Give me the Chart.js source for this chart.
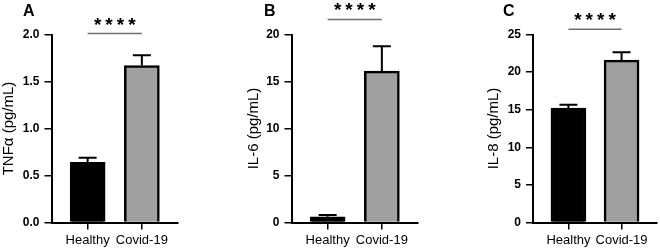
<!DOCTYPE html>
<html>
<head>
<meta charset="utf-8">
<script src="https://cdn.jsdelivr.net/npm/chart.js@4.4.0/dist/chart.umd.min.js"></script>
<style>
  body { margin: 0; background: #fff; }
  #wrap { position: relative; width: 660px; height: 250px; overflow: hidden; }
  .panel { position: absolute; top: 0; height: 250px; }
</style>
</head>
<body>
<div id="wrap">
  <div class="panel" id="panelA" style="left:0px;width:181px"><canvas id="chartA"></canvas></div>
  <div class="panel" id="panelB" style="left:245px;width:176px"><canvas id="chartB"></canvas></div>
  <div class="panel" id="panelC" style="left:485px;width:175px"><canvas id="chartC"></canvas></div>
</div>
<script>
// data
var categories = ["Healthy", "Covid-19"];
var panelLetters = ["A", "B", "C"];
var yTitles = ["TNFα (pg/mL)", "IL-6 (pg/mL)", "IL-8 (pg/mL)"];

var tnfMeans = [0.64, 1.67];
var tnfErrors = [0.05, 0.11];
var il6Means = [0.6, 16.1];
var il6Errors = [0.2, 2.65];
var il8Means = [15.2, 21.6];
var il8Errors = [0.45, 1.05];

var yMaxes = [2, 20, 25];
var yStepSizes = [0.5, 5, 5];
var yDecimals = [1, 0, 0];

var sigLabel = "****";
var sigHeights = [2.01, 21.6, 25.7];

var barColors = ["#000000", "#a0a0a0"];

var FONT = "'Liberation Sans', Arial, Helvetica, sans-serif";


// error bars (upper whisker only) + significance bracket + panel letter
var extrasPlugin = {
    id: "extras",
    afterDatasetsDraw: function (chart, args, opts) {
        var ctx = chart.ctx;
        var xs = chart.scales.x, ys = chart.scales.y;
        var ds = chart.data.datasets[0];
        ctx.save();
        ctx.strokeStyle = "#000";
        ctx.lineWidth = 2;
        for (var i = 0; i < ds.data.length; i++) {
            var x = xs.getPixelForValue(ds.data[i].x);
            var y0 = ys.getPixelForValue(ds.data[i].y);
            var y1 = ys.getPixelForValue(ds.data[i].y + opts.errors[i]);
            ctx.beginPath();
            ctx.moveTo(x, y0);
            ctx.lineTo(x, y1);
            ctx.moveTo(x - 9, y1);
            ctx.lineTo(x + 9, y1);
            ctx.stroke();
        }
        ctx.restore();
    },
    afterDraw: function (chart, args, opts) {
        var ctx = chart.ctx;
        var xs = chart.scales.x, ys = chart.scales.y;
        var xa = xs.getPixelForValue(0), xb = xs.getPixelForValue(1);
        var ly = ys.getPixelForValue(opts.sig);
        ctx.save();
        ctx.strokeStyle = "#6e6e6e";
        ctx.lineWidth = 1.5;
        ctx.beginPath();
        ctx.moveTo(xa, ly);
        ctx.lineTo(xb, ly);
        ctx.stroke();

        ctx.fillStyle = "#000";
        ctx.font = "bold 19px " + FONT;
        ctx.letterSpacing = "4px";
        ctx.textAlign = "center";
        ctx.textBaseline = "alphabetic";
        ctx.fillText(sigLabel, (xa + xb) / 2 + 2, ly - 3);

        ctx.letterSpacing = "0px";
        ctx.font = "bold 16px " + FONT;
        ctx.textAlign = "left";
        ctx.fillText(opts.letter, opts.letterX, 16);
        ctx.restore();
    }
};


function makePanel(canvasId, idx, means, errors, yAxisWidth, letterX) {
    var canvas = document.getElementById(canvasId);
    var box = canvas.parentNode;
    canvas.width = box.clientWidth;
    canvas.height = 250;

    var points = [];
    for (var i = 0; i < categories.length; i++) {
        points.push({x: i, y: means[i]});
    }

    return new Chart(canvas, {
        type: "bar",
        data: {
            datasets: [{
                data: points,
                backgroundColor: barColors,
                borderColor: "#000",
                borderWidth: 2.5,
                borderSkipped: "bottom",
                barThickness: 35
            }]
        },
        options: {
            responsive: false,
            animation: false,
            devicePixelRatio: 1,
            layout: {padding: {top: 34.5, right: 3, bottom: 0, left: 0}},
            scales: {
                x: {
                    type: "linear",
                    offset: false,
                    min: -2 / 3,
                    max: 5 / 3,
                    afterBuildTicks: function (scale) {
                        scale.ticks = categories.map(function (c, k) { return {value: k}; });
                    },
                    afterFit: function (scale) { scale.height = 27.5; },
                    border: {display: true, color: "#000", width: 2},
                    grid: {display: true, offset: false, drawOnChartArea: false, drawTicks: true,
                           tickLength: 7, color: "#000", lineWidth: 1.5},
                    ticks: {
                        autoSkip: false,
                        maxRotation: 0,
                        padding: 3,
                        color: "#000",
                        font: {family: FONT, size: 13},
                        callback: function (v) { return categories[v]; }
                    }
                },
                y: {
                    min: 0,
                    max: yMaxes[idx],
                    afterFit: function (scale) { scale.width = yAxisWidth; },
                    border: {display: true, color: "#000", width: 2},
                    grid: {display: true, drawOnChartArea: false, drawTicks: true,
                           tickLength: 7, color: "#000", lineWidth: 1.5},
                    ticks: {
                        stepSize: yStepSizes[idx],
                        padding: 5,
                        color: "#000",
                        font: {family: FONT, size: 12, weight: "bold"},
                        callback: function (v) { return v.toFixed(yDecimals[idx]); }
                    },
                    title: {
                        display: true,
                        text: yTitles[idx],
                        color: "#000",
                        padding: 0,
                        font: {family: FONT, size: 15}
                    }
                }
            },
            plugins: {
                legend: {display: false},
                tooltip: {enabled: false},
                extras: {errors: errors, sig: sigHeights[idx], letter: panelLetters[idx], letterX: letterX}
            }
        },
        plugins: [extrasPlugin]
    });
}


document.addEventListener("DOMContentLoaded", function () {
    makePanel("chartA", 0, tnfMeans, tnfErrors, 51.5, 23);
    makePanel("chartB", 1, il6Means, il6Errors, 46.5, 19);
    makePanel("chartC", 2, il8Means, il8Errors, 48, 18);
});
</script>
</body>
</html>
